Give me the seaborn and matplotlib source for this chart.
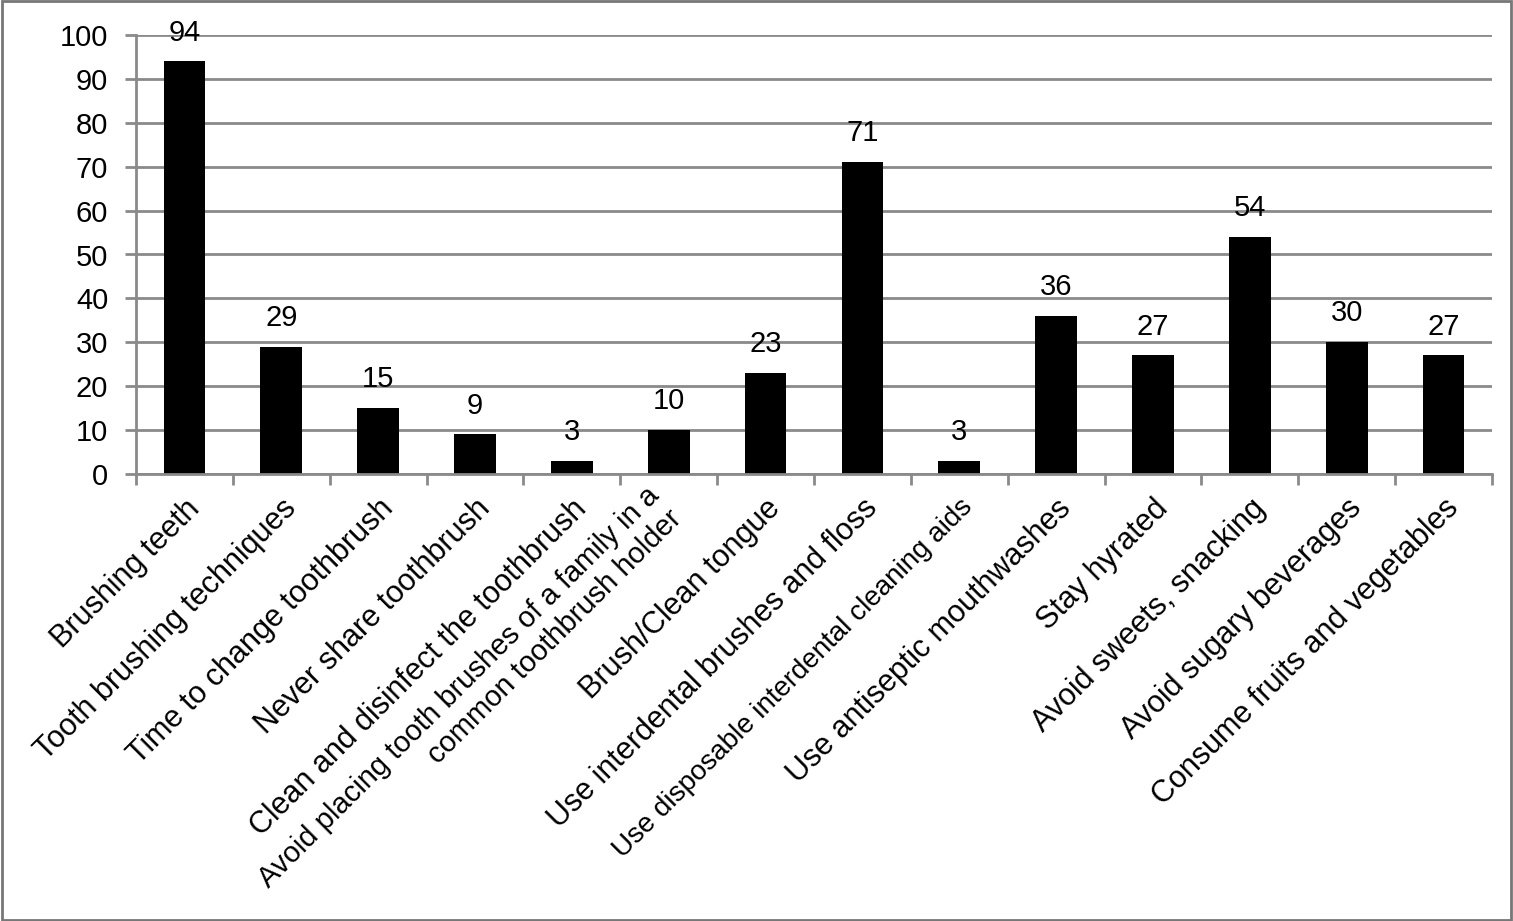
import matplotlib
matplotlib.use("Agg")
import matplotlib.pyplot as plt
import seaborn as sns
import pandas as pd
import numpy as np
from matplotlib.patches import Rectangle

categories = [
    "Brushing teeth",
    "Tooth brushing techniques",
    "Time to change toothbrush",
    "Never share toothbrush",
    "Clean and disinfect the toothbrush",
    "Avoid placing tooth brushes of a family in a\ncommon toothbrush holder",
    "Brush/Clean tongue",
    "Use interdental brushes and floss",
    "Use disposable interdental cleaning aids",
    "Use antiseptic mouthwashes",
    "Stay hyrated",
    "Avoid sweets, snacking",
    "Avoid sugary beverages",
    "Consume fruits and vegetables",
]
values = [94, 29, 15, 9, 3, 10, 23, 71, 3, 36, 27, 54, 30, 27]
yticks = list(range(0, 101, 10))

sns.set_theme(style="white")
plt.rcParams["font.family"] = ["Liberation Sans", "DejaVu Sans"]

df = pd.DataFrame({"cat": categories, "val": values})

fig = plt.figure(figsize=(15.13, 9.21), dpi=100)
ax = fig.add_axes([136 / 1513, 1 - 474 / 921, (1492 - 136) / 1513, (474 - 35) / 921])

sns.barplot(data=df, x="cat", y="val", color="black", width=0.43, ax=ax,
            saturation=1, edgecolor="black", linewidth=0)

gray = "#8a8a8a"
ax.set_ylim(0, 100)
ax.set_xlim(-0.5, len(categories) - 0.5)
ax.set_yticks(yticks)
ax.set_yticklabels([str(t) for t in yticks], fontsize=21, color="black")
ax.yaxis.grid(True, color=gray, linewidth=2)
ax.set_axisbelow(True)
for s in ["top", "right"]:
    ax.spines[s].set_visible(False)
ax.spines["left"].set_color(gray)
ax.spines["left"].set_linewidth(2)
ax.spines["bottom"].set_color(gray)
ax.spines["bottom"].set_linewidth(2)
ax.tick_params(axis="y", which="major", length=8, width=2, color=gray, left=True, pad=12)

# category labels at bar centers, tick marks at boundaries
ax.set_xticks(range(len(categories)))
shown = [("" if "\n" in c else c) for c in categories]
ax.set_xticklabels(shown, rotation=45, ha="right", rotation_mode="anchor", fontsize=22,
                   color="black")
ax.tick_params(axis="x", which="major", length=0, pad=14)
ax.set_xticks(np.arange(-0.5, len(categories), 1.0), minor=True)
ax.tick_params(axis="x", which="minor", length=8, width=2, color=gray, bottom=True)
for lbl in ax.get_xticklabels():
    if "disposable" in lbl.get_text():
        lbl.set_fontsize(20)
for i, c in enumerate(categories):
    if "\n" in c:
        ax.annotate(c, (i, 0), xycoords=("data", "axes fraction"),
                    xytext=(-2, -21), textcoords="offset points",
                    rotation=45, ha="right", va="center", rotation_mode="anchor",
                    multialignment="right", fontsize=21, color="black")
ax.set_xlabel("")
ax.set_ylabel("")

for i, v in enumerate(values):
    ax.annotate(str(v), (i, v), xytext=(0, 15), textcoords="offset points",
                ha="center", va="baseline", fontsize=21, color="black")

fig.add_artist(Rectangle((0.001, 0.001), 0.998, 0.998, transform=fig.transFigure,
                         fill=False, edgecolor="#777777", linewidth=2))

fig.savefig("out.png", dpi=100, facecolor="white")
